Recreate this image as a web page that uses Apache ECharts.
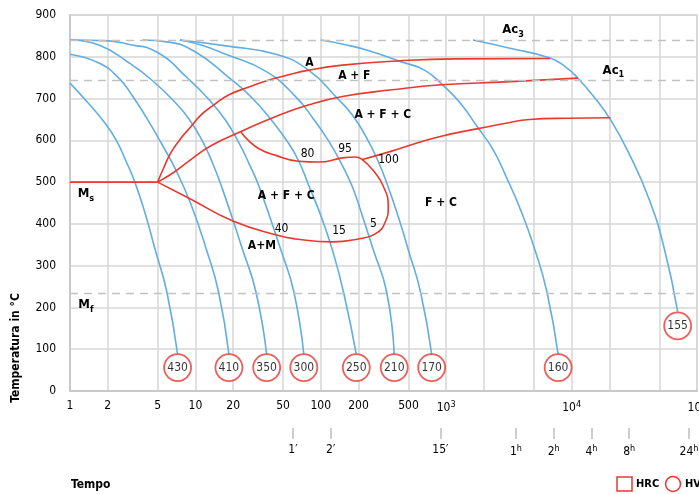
<!DOCTYPE html>
<html>
<head>
<meta charset="utf-8">
<script src="https://cdn.jsdelivr.net/npm/echarts@6/dist/echarts.min.js"></script>
<style>
html, body { margin: 0; padding: 0; background: #fff; }
#chart { width: 699px; height: 494px; }
</style>
</head>
<body>
<div id="chart"></div>
<script>
// tempo in secondi (asse log), temperatura in °C
const xTickValues = [1, 2, 5, 10, 20, 50, 100, 200, 500, 1000, 10000, 100000];
const xTickLabels = ['1', '2', '5', '10', '20', '50', '100', '200', '500', '10{sup|3}', '10{sup|4}', '10{sup|5}'];
const xGridValues = [1, 2, 5, 10, 20, 50, 100, 200, 500, 1000, 2000, 5000, 10000, 20000, 50000, 100000];
const timeMarkValues = [60, 120, 900, 3600, 7200, 14400, 28800, 86400];
const timeMarkLabels = ['1′', '2′', '15′', '1{sup|h}', '2{sup|h}', '4{sup|h}', '8{sup|h}', '24{sup|h}'];

// Ac3, Ac1, Mf
const dashedTemps = [840, 745, 235];

// curve di raffreddamento [s, °C]
const curve430 = [[1, 737], [1.42, 687], [1.86, 645], [2.34, 600], [2.8, 550], [3.29, 500], [4.0, 422], [4.78, 338], [5.92, 237], [7.21, 88]];
const curve410 = [[1, 806], [1.7, 785], [2.43, 750], [3.17, 705], [4.15, 650], [5.42, 590], [7.09, 525], [9.26, 445], [12.2, 340], [15.3, 237], [18.5, 88]];
const curve350 = [[1, 840], [1.7, 828], [2.9, 787], [4.46, 745], [7.09, 687], [8.94, 650], [11.3, 600], [13.6, 548], [16.5, 482], [23.8, 338], [30.4, 237], [37, 88]];
const curve300 = [[1, 840], [2.03, 838], [2.9, 830], [4.88, 812], [8.94, 745], [12.6, 700], [17.5, 647], [22.4, 592], [26.7, 545], [32.1, 490], [48, 338], [61, 237], [73.2, 88]];
const curve250 = [[3.79, 840], [6.14, 835], [9.95, 812], [18.2, 752], [28.2, 702], [40.7, 647], [55.6, 592], [66.8, 550], [80.2, 492], [100, 420], [123.6, 338], [151.7, 237], [191.9, 88]];
const curve210 = [[7.52, 840], [11.1, 828], [17.5, 806], [36.5, 765], [63.2, 704], [87.9, 650], [115.6, 598], [143.7, 548], [177.8, 490], [214, 420], [261, 340], [335, 237], [385, 88]];
const curve170 = [[7.52, 840], [17.5, 826], [43.8, 806], [80.7, 767], [136, 700], [179, 660], [226, 612], [281, 556], [343, 490], [427, 405], [496, 340], [624, 237], [766, 88]];
const curve160 = [[100, 840], [157, 829], [239, 815], [427, 789], [671, 768], [964, 729], [1303, 688], [1763, 633], [2340, 580], [2987, 515], [3963, 430], [5070, 340], [6355, 237], [7810, 88]];
const curve155 = [[1633, 840], [3281, 820], [6730, 797], [8930, 776], [11190, 749], [15100, 704], [20370, 650], [28510, 570], [41500, 459], [54950, 340], [70100, 190]];

// linee di trasformazione
const msLine = [[1, 500], [5, 500]];
const ferriteStart = [[5, 500], [5.6, 535], [6.45, 573], [7.72, 606], [9.23, 633], [11.1, 661], [13.8, 683], [18.5, 709], [25.3, 725], [36.5, 742], [52.7, 755], [80.4, 768], [149, 780], [411, 790], [1163, 795], [6730, 796]];
const carbideStart = [[5, 500], [6.7, 523], [9.2, 554], [13.3, 587], [23.1, 621], [43.8, 657], [80.4, 685], [149, 705], [369, 721], [914, 733], [2987, 740], [11190, 749]];
const loopLine = [[23.1, 620], [26.2, 601], [32.1, 580], [43.8, 564], [66.2, 550], [96.4, 548], [149, 558], [189, 560], [214, 554], [258, 530], [315, 490], [345, 442], [326, 404], [272, 376], [199, 364], [124, 357], [62.7, 364], [46, 372], [19.9, 407], [9.2, 459], [5, 500]];
const finishLine = [[214, 554], [356, 573], [560, 592], [914, 610], [1795, 628], [2987, 641], [4613, 650], [9270, 653], [20370, 654]];

// durezza HV alla fine di ogni curva
const hvValues = [430, 410, 350, 300, 250, 210, 170, 160, 155];
const hvTemps = [56, 56, 56, 56, 56, 56, 56, 56, 156];

const phaseLabels = ['A', 'A + F', 'A + F + C', 'A + F + C', 'F + C', 'A+M', '{b|M}{sub|s}', '{b|M}{sub|f}', '{b|Ac}{sub|3}', '{b|Ac}{sub|1}'];
const phaseTimes = [81, 185, 312, 53, 908, 33.9, 1.34, 1.34, 3410, 21550];
const phaseTemps = [786, 755, 660, 466, 451, 347, 472, 206, 864, 768];

const pctLabels = ['80', '95', '100', '40', '15', '5'];
const pctTimes = [78.4, 156, 347, 48.6, 140, 263];
const pctTemps = [568, 580, 554, 389, 384, 401];

const FONT = "'Liberation Sans Narrow', 'DejaVu Sans Condensed', 'Liberation Sans', sans-serif";
const BLUE = '#62ade2';
const RED = '#e8382f';
const GRID = '#d6d6d6';
const TEXT = '#000';

const lg = v => Math.log10(v);
const toXY = p => [lg(p[0]), p[1]];
const nearest = (arr, v) => {
    let best = 0;
    arr.forEach((a, i) => { if (Math.abs(lg(a) - v) < Math.abs(lg(arr[best]) - v)) best = i; });
    return best;
};

const chart = echarts.init(document.getElementById('chart'), null, { renderer: 'canvas' });

const coolingCurves = [curve430, curve410, curve350, curve300, curve250, curve210, curve170, curve160, curve155];
const redLines = [msLine, ferriteStart, carbideStart, loopLine, finishLine];

const series = [];
coolingCurves.forEach(c => {
    series.push({
        type: 'line',
        data: c.map(toXY),
        showSymbol: false,
        smooth: 0.5,
        silent: true,
        z: 2,
        lineStyle: { color: BLUE, width: 1.6 }
    });
});
redLines.forEach((c, i) => {
    const s = {
        type: 'line',
        data: c.map(toXY),
        showSymbol: false,
        smooth: i === 0 ? false : 0.5,
        silent: true,
        z: 3,
        lineStyle: { color: RED, width: 1.6 }
    };
    if (i === 0) {
        s.markLine = {
            silent: true,
            symbol: 'none',
            label: { show: false },
            lineStyle: { type: [8, 6], color: '#c2c2c2', width: 1.4 },
            data: dashedTemps.map(v => ({ yAxis: v }))
        };
    }
    series.push(s);
});

// cerchi HV
series.push({
    type: 'scatter',
    symbol: 'circle',
    symbolSize: 27,
    silent: true,
    z: 5,
    itemStyle: { color: '#fff', borderColor: RED, borderWidth: 1.8 },
    label: {
        show: true,
        position: 'inside',
        color: TEXT,
        fontFamily: FONT,
        fontSize: 12,
        textBorderWidth: 0,
        formatter: p => p.value[2]
    },
    data: hvValues.map((v, i) => {
        const c = coolingCurves[i];
        return [lg(c[c.length - 1][0]), hvTemps[i], v];
    })
});

// etichette fasi
series.push({
    type: 'scatter',
    symbol: 'circle',
    symbolSize: 0,
    silent: true,
    z: 6,
    itemStyle: { color: TEXT },
    label: {
        show: true,
        position: 'inside',
        color: TEXT,
        opacity: 1,
        fontFamily: FONT,
        fontSize: 12,
        fontWeight: 'bold',
        textBorderWidth: 0,
        formatter: p => p.name,
        rich: {
            b: { fontFamily: FONT, fontSize: 13, fontWeight: 'bold', color: TEXT },
            sub: { fontFamily: FONT, fontSize: 9, fontWeight: 'bold', color: TEXT, padding: [9, 0, 0, 0] }
        }
    },
    data: phaseLabels.map((n, i) => ({ name: n, value: [lg(phaseTimes[i]), phaseTemps[i]] }))
});

// percentuali
series.push({
    type: 'scatter',
    symbol: 'circle',
    symbolSize: 0,
    silent: true,
    z: 6,
    itemStyle: { color: TEXT },
    label: {
        show: true,
        position: 'inside',
        color: TEXT,
        opacity: 1,
        fontFamily: FONT,
        fontSize: 12,
        textBorderWidth: 0,
        formatter: p => p.name
    },
    data: pctLabels.map((n, i) => ({ name: n, value: [lg(pctTimes[i]), pctTemps[i]] }))
});

const supRich = {
    sup: { fontFamily: FONT, fontSize: 9, color: TEXT, padding: [0, 0, 7, 0] }
};

chart.setOption({
    animation: false,
    backgroundColor: '#fff',
    grid: {
        left: 70,
        right: 2,
        top: 15,
        bottom: 103,
        show: true,
        borderColor: GRID,
        borderWidth: 1.5,
        outerBoundsMode: 'none'
    },
    xAxis: [
        {
            type: 'value',
            min: 0,
            max: 5,
            axisLine: { show: true, lineStyle: { color: '#c9c9c9', width: 2 } },
            axisTick: { show: false, customValues: xGridValues.map(lg) },
            splitLine: { show: true, lineStyle: { color: GRID, width: 1.5 } },
            axisLabel: {
                customValues: xTickValues.map(lg),
                margin: 9,
                color: TEXT,
                fontFamily: FONT,
                fontSize: 12,
                formatter: v => xTickLabels[nearest(xTickValues, v)],
                rich: supRich
            }
        },
        {
            type: 'value',
            position: 'bottom',
            offset: 37,
            min: 0,
            max: 5,
            axisLine: { show: false },
            axisTick: {
                show: true,
                length: 11,
                customValues: timeMarkValues.map(lg),
                lineStyle: { color: '#bdbdbd', width: 1.5 }
            },
            splitLine: { show: false },
            axisLabel: {
                customValues: timeMarkValues.map(lg),
                margin: 16,
                color: TEXT,
                fontFamily: FONT,
                fontSize: 12,
                formatter: v => timeMarkLabels[nearest(timeMarkValues, v)],
                rich: supRich
            }
        }
    ],
    yAxis: {
        type: 'value',
        min: 0,
        max: 900,
        interval: 100,
        axisLine: { show: true, lineStyle: { color: '#c9c9c9', width: 2 } },
        axisTick: { show: false },
        splitLine: { show: true, lineStyle: { color: GRID, width: 1.5 } },
        axisLabel: { margin: 14, color: TEXT, fontFamily: FONT, fontSize: 12 }
    },
    graphic: [
        {
            type: 'text',
            x: 16,
            y: 348,
            rotation: Math.PI / 2,
            style: {
                text: 'Temperatura in °C',
                fill: TEXT,
                font: 'bold 12px ' + FONT,
                textAlign: 'center',
                textVerticalAlign: 'middle'
            }
        },
        {
            type: 'text',
            x: 71,
            y: 485,
            style: {
                text: 'Tempo',
                fill: TEXT,
                font: 'bold 12px ' + FONT,
                textAlign: 'left',
                textVerticalAlign: 'middle'
            }
        },
        {
            type: 'rect',
            shape: { x: 617, y: 477, width: 15, height: 14 },
            style: { fill: '#fff', stroke: RED, lineWidth: 1.5 }
        },
        {
            type: 'text',
            x: 636,
            y: 484,
            style: { text: 'HRC', fill: TEXT, font: 'bold 11px ' + FONT, textVerticalAlign: 'middle' }
        },
        {
            type: 'circle',
            shape: { cx: 673, cy: 484, r: 7.5 },
            style: { fill: '#fff', stroke: RED, lineWidth: 1.5 }
        },
        {
            type: 'text',
            x: 685,
            y: 484,
            style: { text: 'HV', fill: TEXT, font: 'bold 11px ' + FONT, textVerticalAlign: 'middle' }
        }
    ],
    series: series
});
</script>
</body>
</html>
